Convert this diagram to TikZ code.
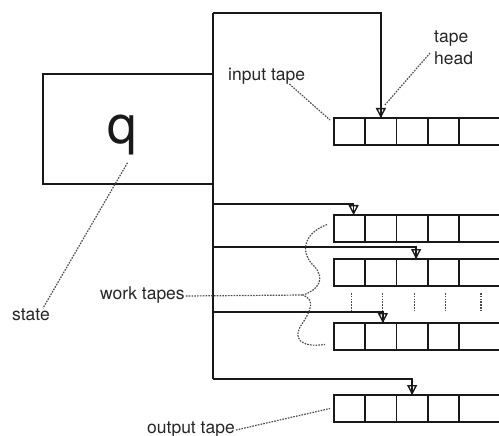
\documentclass[tikz,border=0pt]{standalone}
\usepackage{fontspec}
\setmainfont{TeX Gyre Heros}
\usetikzlibrary{arrows.meta,calc}

\begin{document}
\begin{tikzpicture}[x=1pt,y=-1pt,
  wire/.style={line width=1.5pt, draw=black!90},
  tapeline/.style={line width=1.8pt, draw=black!90},
  cell/.style={draw=black!90, line width=1.8pt, minimum width=31.25pt,
    minimum height=27pt, inner sep=0pt, outer sep=0pt},
  opencell/.style={minimum width=40pt, minimum height=27pt, inner sep=0pt, outer sep=0pt},
  headtip/.style={-{Triangle[open,length=10pt,width=10pt,line width=1.4pt]}},
  note/.style={dash pattern=on 1.6pt off 1.2pt, line width=1.2pt, draw=black!70},
  lbl/.style={font=\fontsize{17.5}{21}\selectfont, text=black!85, inner sep=0pt, anchor=base west}]
\useasboundingbox (0,0) rectangle (499,436);

% a tape: four closed cells and an open-ended fifth one
\newcommand{\tmtape}[2]{%
  \foreach \i in {1,...,4} {
    \node[cell, anchor=north west] (#1\i) at ({334+31.25*(\i-1)}, #2) {};
  }
  \node[opencell, anchor=north west] (#15) at (459, #2) {};
  \draw[tapeline] (#15.north west) -- (#15.north east)
                  (#15.south west) -- (#15.south east);
}

% finite control
\node[draw=black!90, line width=1.5pt, minimum width=170pt, minimum height=110pt,
      inner sep=0pt] (ctrl) at (128,129) {};
\node[font=\fontsize{53}{53}\selectfont, text=black!90, inner sep=0pt, anchor=base]
      (qlabel) at (122.5,143) {q};

% tapes
\tmtape{in}{118}
\tmtape{wa}{215}
\tmtape{wb}{259}
\tmtape{wc}{323}
\tmtape{out}{395}

% junctions on the control's bus
\coordinate (ttop) at (213,13);
\coordinate (ja) at (213,204);
\coordinate (jb) at (213,247);
\coordinate (jc) at (213,312);
\coordinate (jo) at (213,379);

\draw[wire] (ttop) -- (jo);

% head connectors
\draw[wire] (ttop) -| (in2.north);
\draw[wire, headtip] ($(in2.north)+(0,-11)$) -- (in2.north);

\draw[wire] (ja) -| ($(wa1.north)+(4,0)$);
\draw[wire, headtip] ($(wa1.north)+(4,-11)$) -- ($(wa1.north)+(4,0)$);

\draw[wire] (jb) -| ($(wb3.north)+(4,0)$);
\draw[wire, headtip] ($(wb3.north)+(4,-11)$) -- ($(wb3.north)+(4,0)$);

\draw[wire] (jc) -| ($(wc2.north)+(2,0)$);
\draw[wire, headtip] ($(wc2.north)+(2,-11)$) -- ($(wc2.north)+(2,0)$);

\draw[wire] (jo) -| (out3.north);
\draw[wire, headtip] ($(out3.north)+(0,-11)$) -- (out3.north);

% elided tapes
\foreach \i in {1,...,5} {
  \draw[note] ($(wb\i.south)+(2,7)$) -- ($(wb\i.south)+(2,24)$);
}

% labels
\node[lbl] (inlbl) at (228,81) {input tape};
\node[lbl] (tapelbl) at (434,43) {tape};
\node[lbl] (headlbl) at (434,65) {head};
\node[lbl] (statelbl) at (12,320) {state};
\node[lbl] (worklbl) at (100,299) {work tapes};
\node[lbl] (outlbl) at (147,433) {output tape};

% label pointers
\draw[note] ($(inlbl.base east)+(-16,3)$) -- ($(in1.north west)+(-4,2)$);
\draw[note] ($(headlbl.north west)+(-4,1)$) -- ($(in2.north)+(4,-13)$);
\draw[note] ($(qlabel.south)+(5,8)$) -- ($(statelbl.north)+(12,0)$);

\coordinate (brtip) at (303,295);
\draw[note] ($(worklbl.base east)+(1,-3)$) -- (brtip);
\draw[note] ($(wa1.west)+(-7,-4)$)
   .. controls (300,235) and (302,255) .. (314,266)
   .. controls (326,279) and (318,290) .. (brtip)
   .. controls (316,300) and (310,312) .. (302,324)
   .. controls (292,338) and (300,348) .. ($(wc1.west)+(-9,8)$);

\draw[note] ($(outlbl.base east)+(1,-3)$) -- ($(out1.west)+(-4,0)$);
\end{tikzpicture}
\end{document}
